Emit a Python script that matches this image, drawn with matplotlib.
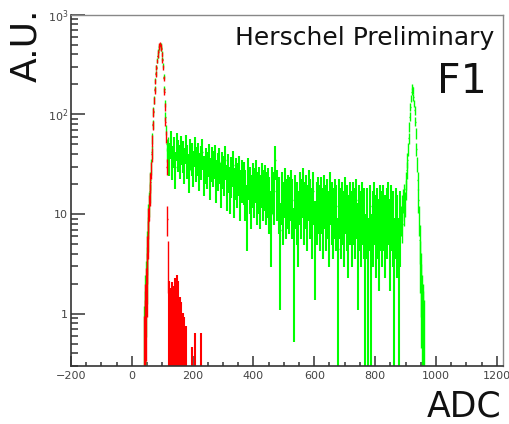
import numpy as np
import matplotlib
matplotlib.use('Agg')
import matplotlib.pyplot as plt
from matplotlib.ticker import FixedLocator, FixedFormatter, MultipleLocator, LogLocator, NullFormatter

# pedestal region: 2 ADC bins from 40 to 120
ped_start, ped_width = 40, 2
green_ped = [
    0.5, 0.8, 1.3, 2.0, 3.0, 4.6, 6.8, 9.5, 13, 17,
    22, 30, 42, 58, 80, 108, 140, 180, 220, 260,
    300, 350, 390, 430, 465, 490, 505, 500, 460, 410,
    360, 310, 240, 180, 130, 95, 70, 50, 40, 52,
]
red_ped = [
    0.35, 0.6, 1.0, 1.6, 2.5, 4.0, 6.0, 8.5, 12, 16,
    21, 28, 40, 55, 78, 105, 138, 175, 215, 255,
    295, 345, 385, 425, 470, 495, 510, 490, 450, 400,
    350, 300, 230, 170, 120, 85, 60, 30, 9, 3.5,
]

# middle region: 5 ADC bins from 120
mid_start, mid_width = 120, 5
green_mid = [
    38, 52, 35, 44, 30, 50, 41, 36, 46, 40,
    33, 47, 36, 28, 42, 38, 31, 45, 34, 38,
    29, 35, 42, 27, 33, 30, 37, 25, 34, 31,
    36, 24, 29, 33, 22, 30, 27, 35, 21, 28,
    20, 26, 31, 19, 25, 22, 27, 18, 24, 23,
    18, 12, 25, 20, 16, 22, 19, 24, 17, 20,
    16, 22, 18, 21, 17, 19, 15, 10, 20, 17,
    35, 18, 15, 7, 17, 13, 19, 14, 16, 15,
    18, 14, 6, 16, 13, 10, 17, 14, 19, 13,
    16, 12, 18, 14, 11, 17, 7.5, 13, 15, 12,
    15, 11, 16, 12, 14, 10, 17, 13, 11, 14,
    12, 4.5, 14, 11, 13, 10, 15, 12, 9, 13,
    10, 13, 11, 14, 7, 12, 10, 13, 11, 5,
    11, 4.5, 12, 5, 10, 13, 9, 11, 8, 12,
    10, 12, 9, 11, 13, 8, 12, 10, 4.5, 11,
    9, 4.5, 10,
]
red_mid = [
    1.0, 0.8, 0.95, 0.85, 1.1, 1.2, 1.0, 0.6, 0.5, 0.35,
    0.3, 0.22, 0, 0, 0, 0.1, 0, 0.17, 0, 0,
    0, 0.17,
]

# right peak: 2 ADC bins from 885
peak_start, peak_width = 885, 2
green_peak = [
    9, 12, 8, 14, 11, 16, 13, 18, 22, 28,
    35, 45, 58, 75, 95, 120, 145, 170, 188, 175,
    150, 130, 110, 85, 65, 45, 32, 22, 14, 9,
    5.5, 3.5, 2.5, 1.8, 1.3, 1.0, 0.8, 0.6,
]

# counts -> A.U. factors for the Poisson error bars
fine_scale = 1.0
mid_scale = 5.0
red_mid_scale = 1.3

y_ticks = [1, 10, 100, 1000]
y_tick_labels = ['1', '10', '$10^{2}$', '$10^{3}$']

GREEN = '#00ff00'
RED = '#ff0000'


def draw_hist(ax, start, width, vals, scale, color, lw):
    v = np.asarray(vals, dtype=float)
    x = start + width * (np.arange(len(v)) + 0.5)
    m = v > 0
    x, v = x[m], v[m]
    err = np.sqrt(v * scale)
    lo = np.maximum(v - err, 1e-3)
    ax.vlines(x, lo, v + err, color=color, lw=lw)
    ax.hlines(v, x - width / 2, x + width / 2, color=color, lw=1.0)


fig = plt.figure(figsize=(5.1, 4.24), dpi=100)
ax = fig.add_axes([0.139, 0.137, 0.847, 0.828])

draw_hist(ax, ped_start, ped_width, green_ped, fine_scale, GREEN, 1.0)
draw_hist(ax, mid_start, mid_width, green_mid, mid_scale, GREEN, 1.5)
draw_hist(ax, peak_start, peak_width, green_peak, fine_scale, GREEN, 1.0)
draw_hist(ax, ped_start, ped_width, red_ped, fine_scale, RED, 1.0)
draw_hist(ax, mid_start, mid_width, red_mid, red_mid_scale, RED, 1.5)

ax.set_yscale('log')
ax.set_xlim(-200, 1220)
ax.set_ylim(0.3, 1000)

ax.xaxis.set_major_locator(MultipleLocator(200))
ax.xaxis.set_minor_locator(MultipleLocator(50))
ax.yaxis.set_major_locator(FixedLocator(y_ticks))
ax.yaxis.set_major_formatter(FixedFormatter(y_tick_labels))
ax.yaxis.set_minor_locator(LogLocator(base=10, subs=np.arange(2, 10)))
ax.yaxis.set_minor_formatter(NullFormatter())

ax.tick_params(axis='both', which='both', direction='in', colors='#333333',
               labelcolor='#444444', labelsize=8, width=1.1)
ax.tick_params(axis='x', which='major', length=7.2, pad=4)
ax.tick_params(axis='x', which='minor', length=3)
ax.tick_params(axis='y', which='major', length=10, pad=2)
ax.tick_params(axis='y', which='minor', length=5)

for side in ['left', 'bottom']:
    ax.spines[side].set_color('#333333')
    ax.spines[side].set_linewidth(1.2)
for side in ['top', 'right']:
    ax.spines[side].set_color('#888888')
    ax.spines[side].set_linewidth(1.0)

ax.text(0.981, 0.915, 'Herschel Preliminary', transform=ax.transAxes,
        ha='right', va='baseline', fontsize=18, color='#111111')
ax.text(0.963, 0.778, 'F1', transform=ax.transAxes,
        ha='right', va='baseline', fontsize=29.5, color='#111111')

fig.text(0.052, 0.981, 'A.U.', rotation=90, ha='center', va='top',
         fontsize=26, color='#111111')
fig.text(0.984, 0.018, 'ADC', ha='right', va='baseline',
         fontsize=25, color='#111111')

fig.savefig('out.png', dpi=100)
